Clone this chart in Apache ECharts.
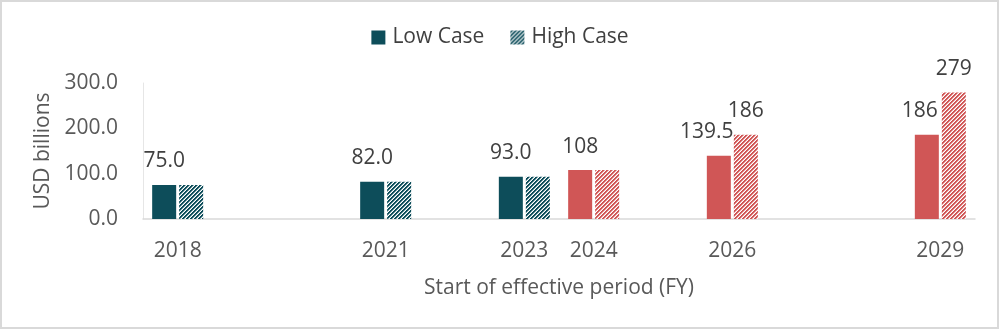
<!DOCTYPE html>
<html>
<head>
<meta charset="utf-8">
<script src="https://cdn.jsdelivr.net/npm/echarts@6/dist/echarts.min.js"></script>
<style>
  html, body { margin: 0; padding: 0; background: #fff; }
  #chart { width: 1000px; height: 330px; }
</style>
</head>
<body>
<div id="chart"></div>
<script>
// ---- data ----
const years = [2018, 2021, 2023, 2024, 2026, 2029];
const lowCase = [75, 82, 93, 108, 139.5, 186];
const highCase = [75, 82, 93, 108, 186, 279];
const lowLabels = ['75.0', '82.0', '93.0', '108', '139.5', '186'];
const highLabels = ['', '', '', '', '186', '279'];
const isProjection = [false, false, false, true, true, true];
const yTicks = [0, 100, 200, 300];
const seriesNames = ['Low Case', 'High Case'];

// ---- styles ----
const TEAL = '#0d4d5a';
const RED = '#d05656';
const FONT = '"Open Sans", "Noto Sans", sans-serif';
// horizontal nudges for low-case labels that would collide with the neighbouring bar
const LOW_LABEL_NUDGE = { 2026: -12, 2029: -7 };

function hexToRgba(hex, a) {
  const r = parseInt(hex.slice(1, 3), 16), g = parseInt(hex.slice(3, 5), 16), b = parseInt(hex.slice(5, 7), 16);
  return 'rgba(' + r + ',' + g + ',' + b + ',' + a + ')';
}

function stripePattern(color) {
  const n = 4;
  const c = document.createElement('canvas');
  c.width = n; c.height = n;
  const ctx = c.getContext('2d');
  ctx.fillStyle = '#ffffff';
  ctx.fillRect(0, 0, n, n);
  for (let y = 0; y < n; y++) {
    for (let x = 0; x < n; x++) {
      const k = (x + y) % n;
      if (k < 2) { ctx.fillStyle = color; ctx.fillRect(x, y, 1, 1); }
      else if (k === 2) { ctx.fillStyle = hexToRgba(color, 0.45); ctx.fillRect(x, y, 1, 1); }
    }
  }
  return { image: c, repeat: 'repeat' };
}
const tealStripe = stripePattern(TEAL);
const redStripe = stripePattern(RED);

const chart = echarts.init(document.getElementById('chart'), null, { renderer: 'canvas' });

const labelBase = {
  show: true,
  position: 'top',
  distance: 13,
  fontFamily: FONT,
  fontSize: 21,
  color: '#404040'
};

const lowData = years.map((yr, i) => ({
  value: [yr, lowCase[i]],
  itemStyle: { color: isProjection[i] ? RED : TEAL },
  label: Object.assign({}, labelBase, {
    show: lowLabels[i] !== '',
    formatter: lowLabels[i],
    offset: [LOW_LABEL_NUDGE[yr] || 0, 0]
  })
}));
const highData = years.map((yr, i) => ({
  value: [yr, highCase[i]],
  itemStyle: { color: isProjection[i] ? redStripe : tealStripe },
  label: Object.assign({}, labelBase, {
    show: highLabels[i] !== '',
    formatter: highLabels[i]
  })
}));

const option = {
  animation: false,
  backgroundColor: '#ffffff',
  graphic: [{
    type: 'rect',
    shape: { x: 1, y: 1, width: 997, height: 327 },
    style: { fill: 'none', stroke: '#d9d9d9', lineWidth: 2 },
    silent: true
  }],
  legend: {
    top: 22,
    left: 'center',
    itemWidth: 14,
    itemHeight: 14,
    itemGap: 26,
    icon: 'rect',
    textStyle: { fontFamily: FONT, fontSize: 21, color: '#404040', padding: [0, 0, 0, 2] },
    data: seriesNames
  },
  grid: { left: 143, right: 25, top: 83, bottom: 111, containLabel: false },
  xAxis: {
    type: 'value',
    min: 2017.5,
    max: 2029.5,
    name: 'Start of effective period (FY)',
    nameLocation: 'middle',
    nameGap: 59,
    nameTextStyle: { fontFamily: FONT, fontSize: 21, color: '#595959' },
    axisLine: { show: true, lineStyle: { color: '#d9d9d9', width: 1.5 } },
    axisTick: { show: false },
    splitLine: { show: false },
    axisLabel: {
      customValues: years,
      margin: 22,
      fontFamily: FONT,
      fontSize: 21,
      color: '#595959',
      formatter: v => String(v)
    }
  },
  yAxis: {
    type: 'value',
    min: 0,
    max: 300,
    interval: 100,
    name: 'USD billions',
    nameLocation: 'middle',
    nameGap: 86,
    nameRotate: 90,
    nameTextStyle: { fontFamily: FONT, fontSize: 21, color: '#595959' },
    axisLine: { show: true, lineStyle: { color: '#e6e6e6', width: 1 } },
    axisTick: { show: false },
    splitLine: { show: false },
    axisLabel: {
      customValues: yTicks,
      margin: 25,
      fontFamily: FONT,
      fontSize: 21,
      color: '#595959',
      formatter: v => v.toFixed(1)
    }
  },
  series: [
    {
      name: seriesNames[0],
      type: 'bar',
      barWidth: 24,
      barGap: '12.5%',
      itemStyle: { color: TEAL },
      data: lowData
    },
    {
      name: seriesNames[1],
      type: 'bar',
      barWidth: 24,
      barGap: '12.5%',
      itemStyle: { color: tealStripe },
      data: highData
    }
  ]
};

chart.setOption(option);
</script>
</body>
</html>
